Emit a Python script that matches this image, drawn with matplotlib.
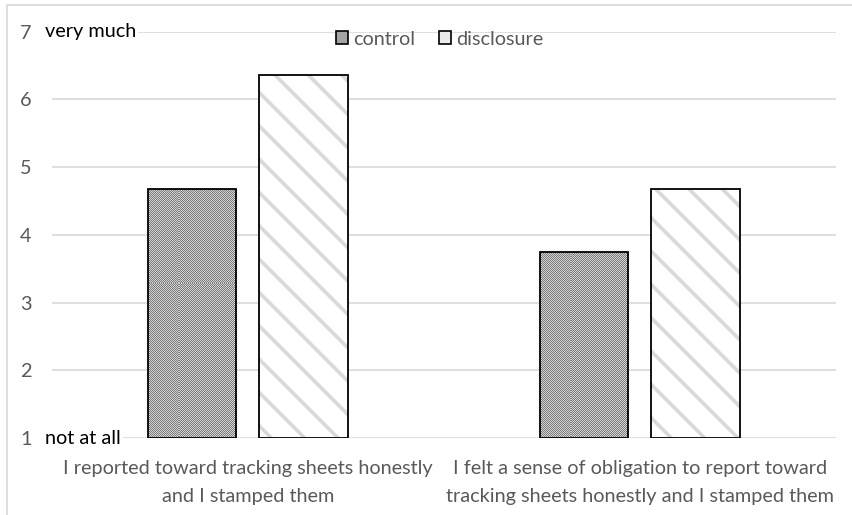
import matplotlib
matplotlib.use("Agg")
import matplotlib.pyplot as plt
import numpy as np
from matplotlib.patches import Rectangle, Patch
from matplotlib.colors import ListedColormap, to_rgba

plt.rcParams['font.family'] = ['Lato', 'DejaVu Sans']
plt.rcParams['hatch.linewidth'] = 2.6

categories = ["I reported toward tracking sheets honestly\nand I stamped them",
              "I felt a sense of obligation to report toward\ntracking sheets honestly and I stamped them"]
series_names = ["control", "disclosure"]
control = [4.68, 3.74]
disclosure = [6.36, 4.68]
yticks = [1, 2, 3, 4, 5, 6, 7]

W, H = 853, 515
fig = plt.figure(figsize=(W / 100, H / 100), dpi=100)
ax = fig.add_axes([51.7 / W, 1 - 438 / H, 784 / W, 406.3 / H])
ax.set_xlim(-0.5, 1.5)
ax.set_ylim(1, 7)

gray_text = "#595959"
grid_col = "#d9d9d9"
fs = 14.3

x = np.arange(len(categories))
bw = 0.2253
off = bw / 2 + 0.0297

ctrl = ax.bar(x - off, [v - 1 for v in control], bw, bottom=1,
              facecolor="none", edgecolor="black", linewidth=1.3, zorder=4)
disc = ax.bar(x + off, [v - 1 for v in disclosure], bw, bottom=1,
              facecolor="white", edgecolor="black", linewidth=1.3,
              hatch="\\", zorder=3)
for b in disc:
    b._hatch_color = to_rgba("#d9d9d9")

# fine checker texture inside the control bars, aligned to whole pixels
checker_cmap = ListedColormap(["#d2d2d2", "#7c7c7c"])
inv = ax.transData.inverted()
for b in ctrl:
    x0, y0 = b.get_x(), b.get_y()
    x1, y1 = x0 + b.get_width(), y0 + b.get_height()
    (px0, py0), (px1, py1) = ax.transData.transform([(x0, y0), (x1, y1)])
    px0, py0 = np.floor(px0) - 1, np.floor(py0) - 1
    px1, py1 = np.ceil(px1) + 1, np.ceil(py1) + 1
    (ex0, ey0), (ex1, ey1) = inv.transform([(px0, py0), (px1, py1)])
    nx, ny = int(px1 - px0), int(py1 - py0)
    jj, ii = np.indices((ny, nx))
    tex = (ii + jj) % 2
    im = ax.imshow(tex, extent=(ex0, ex1, ey0, ey1), aspect="auto",
                   interpolation="none", cmap=checker_cmap,
                   vmin=0, vmax=1, zorder=3.5)
    im.set_clip_path(b)

ax.set_xlim(-0.5, 1.5)
ax.set_ylim(1, 7)
ax.set_yticks(yticks)
ax.set_yticklabels([str(t) for t in yticks], color=gray_text, fontsize=fs)
ax.yaxis.grid(True, color=grid_col, linewidth=1.2, zorder=0)
ax.set_axisbelow(True)
ax.tick_params(axis="y", length=0, pad=14.4)
ax.set_xticks(x)
ax.set_xticklabels(categories, color=gray_text, fontsize=fs, linespacing=1.75)
ax.tick_params(axis="x", length=0, pad=16)
for s in ax.spines.values():
    s.set_visible(False)

# end-point labels on the scale
for yv, label in [(7, "very much"), (1, "not at all")]:
    ax.annotate(label, xy=(0, yv), xycoords=("figure pixels", "data"),
                xytext=(45, 0), textcoords="offset pixels",
                color="black", fontsize=fs, ha="left", va="center",
                bbox=dict(facecolor="white", edgecolor="none", pad=1.5),
                zorder=5, annotation_clip=False)

handles = [Patch(facecolor="#a4a4a4", edgecolor="black", linewidth=1.2, label=series_names[0]),
           Patch(facecolor="#ececec", edgecolor="black", linewidth=1.2, label=series_names[1])]
leg = ax.legend(handles=handles, loc="center", bbox_to_anchor=(0.495, 0.982),
                ncol=2, frameon=False, fontsize=fs, handlelength=0.6,
                handleheight=0.6, handletextpad=0.25, columnspacing=1.2)
for t in leg.get_texts():
    t.set_color(gray_text)

# chart-area border
fig.patches.append(Rectangle((7 / W, -0.1), 1.2, 1 - 5 / H + 0.1,
                             transform=fig.transFigure, fill=False,
                             edgecolor=grid_col, linewidth=1.2))

fig.savefig("out.png", dpi=100)
